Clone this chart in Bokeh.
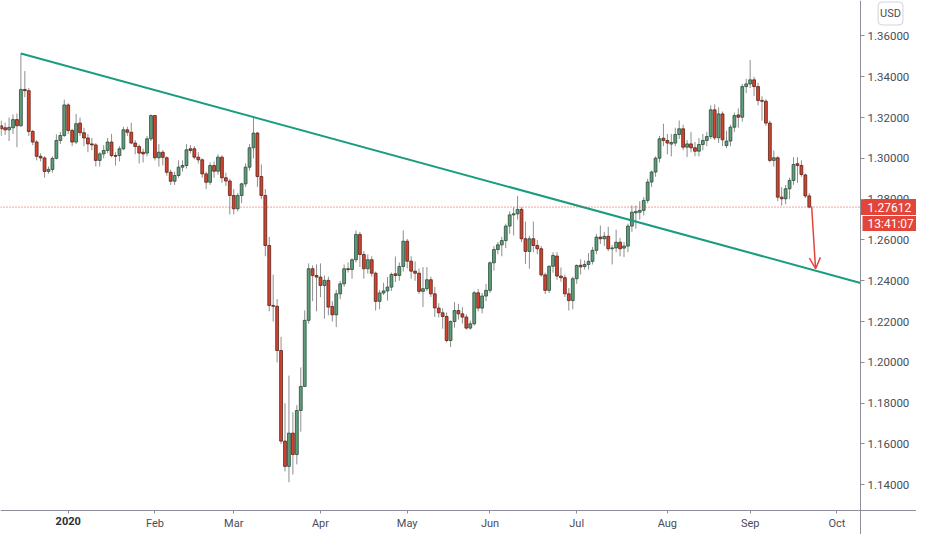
from bokeh.plotting import figure
from bokeh.models import (ColumnDataSource, FixedTicker, PrintfTickFormatter,
                          Label, Arrow, OpenHead, Range1d, LinearAxis)
from bokeh.core.properties import value
from bokeh.embed import file_html
from bokeh.resources import INLINE

# ---------------- data (GBP/USD daily, 6 Dec 2019 .. 22 Sep 2020) ----------------
first_bar = -5  # bar index of the first candle (bar 0 = 13 Dec 2019)

opens = [1.3160, 1.3150, 1.3140, 1.3150, 1.3190, 1.3160, 1.3338, 1.3332, 1.3132, 1.3080,
         1.3010, 1.3002, 1.2936, 1.2946, 1.3000, 1.3088, 1.3112, 1.3262, 1.3137, 1.3080,
         1.3173, 1.3126, 1.3100, 1.3071, 1.3066, 1.2990, 1.3022, 1.3039, 1.3080, 1.3014,
         1.3014, 1.3047, 1.3140, 1.3128, 1.3075, 1.3058, 1.3030, 1.3026, 1.3096, 1.3210,
         1.3003, 1.3030, 1.3003, 1.2932, 1.2888, 1.2916, 1.2957, 1.2965, 1.3047, 1.3047,
         1.3006, 1.2993, 1.2924, 1.2883, 1.2965, 1.2937, 1.3006, 1.2905, 1.2889, 1.2818,
         1.2753, 1.2818, 1.2875, 1.2957, 1.3052, 1.3124, 1.2911, 1.2818, 1.2573, 1.2279,
         1.2275, 1.2058, 1.1614, 1.1490, 1.1653, 1.1548, 1.1764, 1.1882, 1.2206, 1.2459,
         1.2426, 1.2418, 1.2377, 1.2402, 1.2274, 1.2233, 1.2336, 1.2385, 1.2459, 1.2455,
         1.2503, 1.2627, 1.2529, 1.2459, 1.2503, 1.2437, 1.2299, 1.2340, 1.2350, 1.2369,
         1.2434, 1.2426, 1.2470, 1.2594, 1.2496, 1.2447, 1.2437, 1.2348, 1.2361, 1.2405,
         1.2336, 1.2266, 1.2243, 1.2225, 1.2107, 1.2200, 1.2254, 1.2238, 1.2222, 1.2168,
         1.2189, 1.2341, 1.2266, 1.2325, 1.2353, 1.2488, 1.2553, 1.2576, 1.2597, 1.2668,
         1.2723, 1.2728, 1.2750, 1.2606, 1.2544, 1.2606, 1.2573, 1.2557, 1.2429, 1.2353,
         1.2471, 1.2521, 1.2423, 1.2415, 1.2336, 1.2303, 1.2410, 1.2476, 1.2470, 1.2480,
         1.2495, 1.2549, 1.2614, 1.2606, 1.2618, 1.2557, 1.2561, 1.2589, 1.2560, 1.2570,
         1.2668, 1.2733, 1.2736, 1.2745, 1.2794, 1.2884, 1.2933, 1.3001, 1.3099, 1.3088,
         1.3070, 1.3075, 1.3117, 1.3145, 1.3055, 1.3071, 1.3052, 1.3035, 1.3068, 1.3088,
         1.3107, 1.3238, 1.3101, 1.3218, 1.3063, 1.3085, 1.3153, 1.3213, 1.3202, 1.3352,
         1.3365, 1.3385, 1.3352, 1.3284, 1.3280, 1.3173, 1.2990, 1.3003, 1.2810, 1.2802,
         1.2851, 1.2892, 1.2974, 1.2965, 1.2919, 1.2816]
highs = [1.3185, 1.3175, 1.3200, 1.3215, 1.3220, 1.3515, 1.3428, 1.3345, 1.3140, 1.3090,
         1.3025, 1.3010, 1.2960, 1.3010, 1.3118, 1.3130, 1.3288, 1.3270, 1.3145, 1.3218,
         1.3200, 1.3150, 1.3120, 1.3100, 1.3075, 1.3030, 1.3065, 1.3100, 1.3120, 1.3030,
         1.3060, 1.3155, 1.3155, 1.3175, 1.3090, 1.3068, 1.3048, 1.3110, 1.3215, 1.3212,
         1.3070, 1.3040, 1.3010, 1.2945, 1.2935, 1.2990, 1.2990, 1.3070, 1.3065, 1.3060,
         1.3030, 1.3000, 1.2935, 1.2980, 1.2985, 1.3020, 1.3015, 1.2930, 1.2900, 1.2850,
         1.2830, 1.2880, 1.2975, 1.3070, 1.3202, 1.3130, 1.2970, 1.2850, 1.2615, 1.2430,
         1.2310, 1.2125, 1.1800, 1.1935, 1.1755, 1.1790, 1.1975, 1.2255, 1.2485, 1.2475,
         1.2480, 1.2485, 1.2426, 1.2420, 1.2300, 1.2355, 1.2400, 1.2480, 1.2490, 1.2510,
         1.2647, 1.2640, 1.2545, 1.2530, 1.2520, 1.2445, 1.2355, 1.2390, 1.2418, 1.2440,
         1.2519, 1.2490, 1.2647, 1.2605, 1.2520, 1.2495, 1.2460, 1.2467, 1.2467, 1.2420,
         1.2370, 1.2290, 1.2265, 1.2245, 1.2205, 1.2295, 1.2287, 1.2270, 1.2235, 1.2205,
         1.2350, 1.2360, 1.2340, 1.2385, 1.2495, 1.2570, 1.2590, 1.2615, 1.2680, 1.2740,
         1.2760, 1.2815, 1.2760, 1.2690, 1.2620, 1.2690, 1.2600, 1.2570, 1.2440, 1.2475,
         1.2540, 1.2540, 1.2465, 1.2430, 1.2365, 1.2420, 1.2480, 1.2505, 1.2500, 1.2535,
         1.2565, 1.2630, 1.2671, 1.2640, 1.2665, 1.2575, 1.2650, 1.2610, 1.2590, 1.2680,
         1.2769, 1.2769, 1.2790, 1.2810, 1.2900, 1.2940, 1.3010, 1.3110, 1.3170, 1.3120,
         1.3120, 1.3150, 1.3186, 1.3165, 1.3090, 1.3130, 1.3080, 1.3100, 1.3120, 1.3130,
         1.3260, 1.3265, 1.3250, 1.3230, 1.3135, 1.3165, 1.3225, 1.3245, 1.3365, 1.3390,
         1.3483, 1.3400, 1.3370, 1.3305, 1.3290, 1.3185, 1.3039, 1.3010, 1.2859, 1.2870,
         1.2905, 1.3006, 1.3006, 1.2990, 1.2925, 1.2830]
lows = [1.3110, 1.3115, 1.3085, 1.3120, 1.3055, 1.3155, 1.3300, 1.3110, 1.3065, 1.2990,
        1.2985, 1.2905, 1.2925, 1.2930, 1.2995, 1.3070, 1.3105, 1.3120, 1.3060, 1.3070,
        1.3110, 1.3060, 1.3030, 1.3040, 1.2960, 1.2960, 1.3000, 1.3025, 1.3005, 1.2965,
        1.2985, 1.3040, 1.3110, 1.3070, 1.3020, 1.2975, 1.2980, 1.3010, 1.3085, 1.2990,
        1.2960, 1.2965, 1.2915, 1.2870, 1.2870, 1.2905, 1.2935, 1.2950, 1.3025, 1.2995,
        1.2975, 1.2905, 1.2850, 1.2870, 1.2905, 1.2920, 1.2880, 1.2865, 1.2725, 1.2725,
        1.2740, 1.2780, 1.2860, 1.2940, 1.3000, 1.2860, 1.2800, 1.2520, 1.2250, 1.2200,
        1.2000, 1.1600, 1.1465, 1.1412, 1.1450, 1.1500, 1.1660, 1.1880, 1.2190, 1.2300,
        1.2250, 1.2320, 1.2214, 1.2230, 1.2200, 1.2173, 1.2310, 1.2370, 1.2440, 1.2410,
        1.2490, 1.2467, 1.2410, 1.2435, 1.2420, 1.2254, 1.2260, 1.2330, 1.2303, 1.2350,
        1.2394, 1.2400, 1.2445, 1.2460, 1.2410, 1.2400, 1.2335, 1.2271, 1.2350, 1.2320,
        1.2222, 1.2220, 1.2165, 1.2098, 1.2075, 1.2170, 1.2210, 1.2190, 1.2160, 1.2160,
        1.2180, 1.2250, 1.2240, 1.2300, 1.2340, 1.2450, 1.2530, 1.2520, 1.2560, 1.2630,
        1.2622, 1.2700, 1.2590, 1.2483, 1.2459, 1.2540, 1.2530, 1.2420, 1.2335, 1.2340,
        1.2440, 1.2405, 1.2395, 1.2320, 1.2254, 1.2260, 1.2385, 1.2430, 1.2455, 1.2455,
        1.2480, 1.2530, 1.2580, 1.2570, 1.2545, 1.2480, 1.2540, 1.2520, 1.2516, 1.2540,
        1.2640, 1.2655, 1.2700, 1.2720, 1.2780, 1.2860, 1.2910, 1.2980, 1.3060, 1.3020,
        1.3010, 1.3060, 1.3095, 1.3040, 1.3006, 1.3030, 1.3010, 1.3010, 1.3040, 1.3060,
        1.3095, 1.3090, 1.3075, 1.3060, 1.3050, 1.3060, 1.3130, 1.3150, 1.3180, 1.3320,
        1.3345, 1.3305, 1.3260, 1.3185, 1.3160, 1.2980, 1.2960, 1.2790, 1.2769, 1.2775,
        1.2800, 1.2870, 1.2880, 1.2910, 1.2805, 1.2755]
closes = [1.3145, 1.3140, 1.3152, 1.3190, 1.3160, 1.3338, 1.3332, 1.3132, 1.3080, 1.3010,
          1.3002, 1.2936, 1.2946, 1.3000, 1.3088, 1.3112, 1.3262, 1.3137, 1.3080, 1.3170,
          1.3126, 1.3100, 1.3071, 1.3066, 1.2990, 1.3022, 1.3039, 1.3080, 1.3014, 1.3010,
          1.3047, 1.3140, 1.3128, 1.3075, 1.3058, 1.3026, 1.3022, 1.3096, 1.3210, 1.3003,
          1.3030, 1.3005, 1.2932, 1.2888, 1.2916, 1.2957, 1.2965, 1.3042, 1.3039, 1.3006,
          1.2993, 1.2924, 1.2883, 1.2965, 1.2937, 1.3006, 1.2905, 1.2889, 1.2818, 1.2753,
          1.2818, 1.2875, 1.2957, 1.3052, 1.3124, 1.2911, 1.2818, 1.2573, 1.2279, 1.2275,
          1.2058, 1.1614, 1.1490, 1.1653, 1.1548, 1.1764, 1.1882, 1.2206, 1.2459, 1.2426,
          1.2418, 1.2377, 1.2402, 1.2271, 1.2233, 1.2336, 1.2385, 1.2459, 1.2455, 1.2503,
          1.2627, 1.2529, 1.2459, 1.2503, 1.2437, 1.2299, 1.2340, 1.2350, 1.2369, 1.2431,
          1.2426, 1.2470, 1.2594, 1.2496, 1.2447, 1.2437, 1.2348, 1.2361, 1.2405, 1.2336,
          1.2267, 1.2243, 1.2225, 1.2107, 1.2200, 1.2254, 1.2238, 1.2222, 1.2168, 1.2189,
          1.2341, 1.2266, 1.2325, 1.2353, 1.2488, 1.2553, 1.2576, 1.2597, 1.2668, 1.2723,
          1.2728, 1.2750, 1.2606, 1.2544, 1.2606, 1.2573, 1.2557, 1.2429, 1.2353, 1.2471,
          1.2524, 1.2423, 1.2415, 1.2336, 1.2303, 1.2410, 1.2475, 1.2468, 1.2480, 1.2495,
          1.2549, 1.2614, 1.2606, 1.2618, 1.2557, 1.2561, 1.2589, 1.2557, 1.2570, 1.2668,
          1.2736, 1.2740, 1.2745, 1.2794, 1.2884, 1.2933, 1.3001, 1.3096, 1.3088, 1.3075,
          1.3078, 1.3117, 1.3145, 1.3055, 1.3071, 1.3052, 1.3035, 1.3068, 1.3088, 1.3107,
          1.3238, 1.3101, 1.3218, 1.3091, 1.3085, 1.3153, 1.3210, 1.3202, 1.3352, 1.3365,
          1.3385, 1.3352, 1.3284, 1.3280, 1.3173, 1.2990, 1.3003, 1.2810, 1.2802, 1.2851,
          1.2892, 1.2970, 1.2965, 1.2921, 1.2816, 1.27612]

last_price = 1.27612
last_price_text = "1.27612"
countdown_text = "13:41:07"
currency_text = "USD"

price_ticks = [1.14, 1.16, 1.18, 1.20, 1.22, 1.24, 1.26, 1.28, 1.30, 1.32, 1.34, 1.36]
covered_tick = 1.28          # the tick label that the price tag partly covers
month_ticks = [12, 34, 54, 76, 98, 119, 141, 164, 185, 207]
month_labels = ["2020", "Feb", "Mar", "Apr", "May", "Jun", "Jul", "Aug", "Sep", "Oct"]

# drawn objects: trend line anchors and forecast arrow (bar index, price)
trend_bar = [0, 213]
trend_price = [1.3514, 1.2389]
arrow_bar = [200.6, 201.6]
arrow_price = [1.2764, 1.2459]

# ---------------- layout / styling ----------------
UP_FILL, UP_LINE = "#5f9e7b", "#2c4a39"
DN_FILL, DN_LINE = "#d2442f", "#5a2118"
WICK = "#8e8e8e"
RED = "#e2453a"
TREND = "#1a9c7f"
AXIS = "#8c8f98"
TXT = "#4a4d57"
FONT = "Roboto"

W, H = 916, 534
X0 = -5.175          # left edge of the view (bar units)
SCALE_AT = 213.0     # where the price scale sits (bar units)
X1 = 227.2           # right edge of the view (bar units)
Y_TOP = 1.3774       # top of the view (price)
TIME_AT = 1.1274     # where the time scale sits (price units)
Y_BOT = 1.1156       # bottom of the view (price)
PX = (Y_TOP - Y_BOT) / H     # price units per screen pixel
TAG_HALF = 8 * PX            # half height of a price-scale tag

bars = list(range(first_bar, first_bar + len(opens)))
up = [c >= o for o, c in zip(opens, closes)]
src = ColumnDataSource(dict(
    x=bars, o=opens, h=highs, l=lows, c=closes,
    top=[max(o, c) for o, c in zip(opens, closes)],
    bottom=[min(o, c) for o, c in zip(opens, closes)],
    fill=[UP_FILL if u else DN_FILL for u in up],
    edge=[UP_LINE if u else DN_LINE for u in up],
))

p = figure(width=W, height=H, output_backend="svg", toolbar_location=None,
           x_range=Range1d(X0, X1), y_range=Range1d(Y_BOT, Y_TOP),
           x_axis_location=None, y_axis_location=None,
           min_border_left=0, min_border_top=0, min_border_right=0, min_border_bottom=0)
p.grid.visible = False
p.outline_line_color = None
p.background_fill_color = "white"
p.border_fill_color = "white"

# candles
p.segment(x0="x", y0="l", x1="x", y1="h", source=src, line_color=WICK, line_width=1)
p.vbar(x="x", width=0.72, top="top", bottom="bottom", source=src,
       fill_color="fill", line_color="edge", line_width=0.8)

# trend line
p.line(trend_bar, trend_price, line_color=TREND, line_width=2)

# last price dotted line (from left edge to the price scale)
p.line([X0, SCALE_AT], [last_price, last_price], line_color=RED,
       line_dash="1 2", line_width=1)

# forecast arrow
p.add_layout(Arrow(end=OpenHead(size=11, line_color=RED, line_width=1.5),
                   x_start=arrow_bar[0], y_start=arrow_price[0],
                   x_end=arrow_bar[1], y_end=arrow_price[1],
                   line_color=RED, line_width=1.5))


def style_axis(ax, size, color=TXT, standoff=4, tick_out=4):
    ax.axis_line_color = AXIS
    ax.major_tick_line_color = AXIS
    ax.major_tick_out = tick_out
    ax.major_tick_in = 0
    ax.minor_tick_out = 0
    ax.minor_tick_in = 0
    ax.major_label_standoff = standoff
    ax.major_label_text_font = FONT
    ax.major_label_text_font_size = size
    ax.major_label_text_color = color


# price scale (real axis, fixed at the scale position)
ya = LinearAxis(fixed_location=SCALE_AT)
ya.ticker = FixedTicker(ticks=price_ticks)
ya.formatter = PrintfTickFormatter(format="%.5f")
ya.major_label_overrides = {covered_tick: ""}
style_axis(ya, "11.5px", standoff=3, tick_out=4)
p.add_layout(ya, "right")

# time scale (months)
xa = LinearAxis(fixed_location=TIME_AT)
xa.ticker = FixedTicker(ticks=month_ticks[1:])
xa.major_label_overrides = {t: lab for t, lab in zip(month_ticks[1:], month_labels[1:])}
style_axis(xa, "11px", standoff=4, tick_out=3)
p.add_layout(xa, "below")

# year label in bold on the same time scale
xb = LinearAxis(fixed_location=TIME_AT)
xb.ticker = FixedTicker(ticks=month_ticks[:1])
xb.major_label_overrides = {month_ticks[0]: month_labels[0]}
style_axis(xb, "11px", color="#2a2e39", standoff=4, tick_out=3)
xb.axis_line_color = None
xb.major_label_text_font_style = "bold"
p.add_layout(xb, "below")

# the tick label that sits under the price tag (drawn before the tag so it is covered)
p.text(x=[SCALE_AT], y=[covered_tick], text=["%.5f" % covered_tick], x_offset=7,
       text_align="left", text_baseline="middle", text_color=TXT,
       text_font=value(FONT), text_font_size="11.5px")

# price scale tags: red boxes + white texts
p.quad(left=[SCALE_AT], right=[X1], top=[last_price + TAG_HALF],
       bottom=[last_price - TAG_HALF], fill_color=RED, line_color=None)
p.quad(left=[SCALE_AT + 0.5], right=[X1], top=[last_price - TAG_HALF - PX],
       bottom=[last_price - 3 * TAG_HALF], fill_color=RED, line_color=None)
p.add_layout(Label(x=SCALE_AT, y=last_price, text=last_price_text, x_offset=7,
                   text_align="left", text_baseline="middle", text_color="white",
                   text_font=FONT, text_font_size="12px", level="overlay"))
p.add_layout(Label(x=SCALE_AT, y=last_price - 2 * TAG_HALF, text=countdown_text,
                   x_offset=7, y_offset=-0.5,
                   text_align="left", text_baseline="middle", text_color="white",
                   text_font=FONT, text_font_size="12px", level="overlay"))

# currency badge
p.add_layout(Label(x=SCALE_AT, y=Y_TOP, text=currency_text, x_offset=30, y_offset=-13,
                   text_align="center", text_baseline="middle", text_color=TXT,
                   text_font=FONT, text_font_size="11px", level="overlay",
                   background_fill_color="white", border_line_color="#d1d4dc",
                   border_radius=4, padding=(2, 5)))

open("out.html", "w").write(file_html(p, INLINE))
